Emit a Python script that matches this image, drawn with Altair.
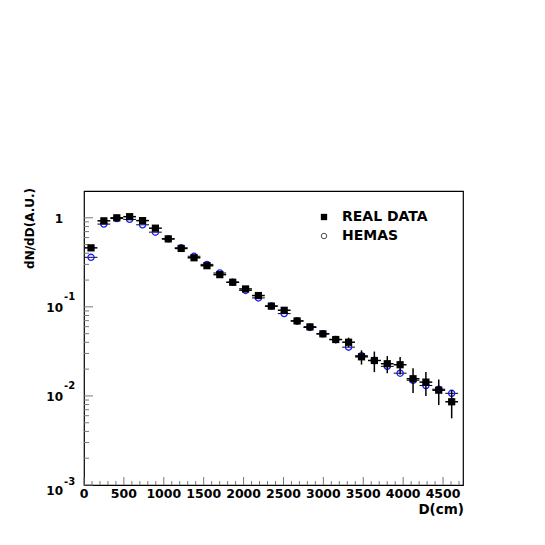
import altair as alt
import pandas as pd

# ---------------- data ----------------
bin_centers = [88, 249, 411, 572, 734, 895, 1056, 1218, 1379, 1541, 1702, 1864, 2025, 2186,
               2348, 2509, 2671, 2832, 2994, 3155, 3316, 3478, 3639, 3801, 3962, 4124, 4285,
               4446, 4608]
bin_half_width = 80

real_data = [0.46, 0.925, 1.0, 1.03, 0.93, 0.765, 0.58, 0.453, 0.356, 0.29, 0.23, 0.189,
             0.159, 0.134, 0.102, 0.0916, 0.0695, 0.0596, 0.0498, 0.043, 0.0401, 0.0275,
             0.025, 0.023, 0.0224, 0.0156, 0.0143, 0.0116, 0.0086]
real_err = [0.015, 0.03, 0.03, 0.03, 0.03, 0.025, 0.02, 0.017, 0.014, 0.012, 0.01, 0.009,
            0.008, 0.007, 0.006, 0.006, 0.006, 0.005, 0.004, 0.004, 0.005, 0.005, 0.0065,
            0.005, 0.005, 0.0048, 0.0043, 0.0037, 0.003]
hemas = [0.36, 0.85, 0.98, 0.96, 0.835, 0.69, 0.58, 0.46, 0.37, 0.30, 0.24, 0.189, 0.153,
         0.126, 0.102, 0.084, 0.0695, 0.0587, 0.0498, 0.043, 0.0353, 0.0283, 0.025, 0.0215,
         0.018, 0.015, 0.0131, 0.0119, 0.0107]

x_major_ticks = [0, 500, 1000, 1500, 2000, 2500, 3000, 3500, 4000, 4500]
x_minor_ticks = [v for v in range(100, 4750, 100) if v % 500 != 0]
y_major_ticks = [0.001, 0.01, 0.1, 1]
y_minor_ticks = [k * 10.0 ** e for e in (-3, -2, -1, 0) for k in range(2, 10) if k * 10.0 ** e < 2]
y_label_vals = [1, 0.1, 0.01]
y_label_base = ["1", "10", "10"]
y_label_exp = ["", "-1", "-2"]
legend_labels = ["REAL DATA", "HEMAS"]
x_title = "D(cm)"
y_title = "dN/dD(A.U.)"

W, H = 379, 294
FONT = "DejaVu Sans"

df = pd.DataFrame({
    "x": bin_centers,
    "xlo": [c - bin_half_width for c in bin_centers],
    "xhi": [c + bin_half_width for c in bin_centers],
    "real": real_data,
    "lo": [max(v - e, 1e-4) for v, e in zip(real_data, real_err)],
    "hi": [v + e for v, e in zip(real_data, real_err)],
    "hemas": hemas,
})

xs = alt.Scale(domain=[0, 4750], nice=False, zero=False)
ys = alt.Scale(type="log", domain=[0.001, 2], nice=False)

base = alt.Chart(df)

# ticks (inward, ROOT style)
xmin_df = pd.DataFrame({"t": x_minor_ticks})
xmaj_df = pd.DataFrame({"t": x_major_ticks})
ymin_df = pd.DataFrame({"t": y_minor_ticks})
ymaj_df = pd.DataFrame({"t": y_major_ticks})

tick_col = "#777777"
xminor = alt.Chart(xmin_df).mark_rule(color=tick_col, strokeWidth=1).encode(
    x=alt.X("t:Q", scale=xs, axis=None), y=alt.value(H), y2=alt.value(H - 4))
xmajor = alt.Chart(xmaj_df).mark_rule(color=tick_col, strokeWidth=1).encode(
    x=alt.X("t:Q", scale=xs, axis=None), y=alt.value(H), y2=alt.value(H - 8))
yminor = alt.Chart(ymin_df).mark_rule(color=tick_col, strokeWidth=1).encode(
    y=alt.Y("t:Q", scale=ys, axis=None), x=alt.value(0), x2=alt.value(5))
ymajor = alt.Chart(ymaj_df).mark_rule(color=tick_col, strokeWidth=1).encode(
    y=alt.Y("t:Q", scale=ys, axis=None), x=alt.value(0), x2=alt.value(9))

# HEMAS
h_hbar = base.mark_rule(color="black", strokeWidth=1).encode(
    x=alt.X("xlo:Q", scale=xs, axis=None), x2="xhi:Q",
    y=alt.Y("hemas:Q", scale=ys, axis=None))
h_pts = base.mark_point(shape="circle", filled=False, color="#1a1aff", size=38,
                        strokeWidth=1.3, opacity=1).encode(
    x=alt.X("x:Q", scale=xs, axis=None), y=alt.Y("hemas:Q", scale=ys, axis=None))

# REAL DATA
r_vbar = base.mark_rule(color="black", strokeWidth=1.5).encode(
    x=alt.X("x:Q", scale=xs, axis=None),
    y=alt.Y("lo:Q", scale=ys, axis=None), y2="hi:Q")
r_hbar = base.mark_rule(color="black", strokeWidth=1.5).encode(
    x=alt.X("xlo:Q", scale=xs, axis=None), x2="xhi:Q",
    y=alt.Y("real:Q", scale=ys, axis=None))
r_pts = base.mark_point(shape="square", filled=True, color="black", size=52, opacity=1).encode(
    x=alt.X("x:Q", scale=xs, axis=None), y=alt.Y("real:Q", scale=ys, axis=None))

# legend
leg1 = pd.DataFrame({"label": [legend_labels[0]]})
leg2 = pd.DataFrame({"label": [legend_labels[1]]})
lg_sq = alt.Chart(leg1).mark_point(shape="square", filled=True, color="black", size=40,
                                   opacity=1).encode(x=alt.value(240), y=alt.value(26))
lg_ci = alt.Chart(leg2).mark_point(shape="circle", filled=False, color="black", size=30,
                                   strokeWidth=1).encode(x=alt.value(240), y=alt.value(45))
lg_t1 = alt.Chart(leg1).mark_text(align="left", baseline="middle", font=FONT,
                                  fontWeight="bold", fontSize=14, color="black").encode(
    text="label:N", x=alt.value(258), y=alt.value(26))
lg_t2 = alt.Chart(leg2).mark_text(align="left", baseline="middle", font=FONT,
                                  fontWeight="bold", fontSize=14, color="black").encode(
    text="label:N", x=alt.value(258), y=alt.value(45))

# x tick labels
xl = alt.Chart(xmaj_df).mark_text(align="center", baseline="middle", font=FONT,
                                  fontWeight="bold", fontSize=12.5, color="black").encode(
    x=alt.X("t:Q", scale=xs, axis=None), y=alt.value(H + 9), text=alt.Text("t:Q", format="d"))

# y tick labels
ylab_df = pd.DataFrame({"v": y_label_vals, "base": y_label_base, "exp": y_label_exp})
yl_base = alt.Chart(ylab_df).mark_text(align="right", baseline="middle", font=FONT,
                                       fontWeight="bold", fontSize=12, dy=1,
                                       color="black").encode(
    y=alt.Y("v:Q", scale=ys, axis=None), x=alt.value(-21), text="base:N")
yl_exp = alt.Chart(ylab_df).mark_text(align="left", baseline="middle", font=FONT,
                                      fontWeight="bold", fontSize=10, dy=-10,
                                      color="black").encode(
    y=alt.Y("v:Q", scale=ys, axis=None), x=alt.value(-20), text="exp:N")
ybot_df = pd.DataFrame({"v": [0.001], "base": ["10"], "exp": ["-3"]})
yb_base = alt.Chart(ybot_df).mark_text(align="right", baseline="middle", font=FONT,
                                       fontWeight="bold", fontSize=12, dy=6,
                                       color="black").encode(
    y=alt.Y("v:Q", scale=ys, axis=None), x=alt.value(-21), text="base:N")
yb_exp = alt.Chart(ybot_df).mark_text(align="left", baseline="middle", font=FONT,
                                      fontWeight="bold", fontSize=10, dy=-3,
                                      color="black").encode(
    y=alt.Y("v:Q", scale=ys, axis=None), x=alt.value(-20), text="exp:N")

# axis titles
xt = alt.Chart(pd.DataFrame({"s": [x_title]})).mark_text(
    align="right", baseline="middle", font=FONT, fontWeight="bold", fontSize=13.5,
    color="black").encode(text="s:N", x=alt.value(W + 1), y=alt.value(H + 25))
yt = alt.Chart(pd.DataFrame({"s": [y_title]})).mark_text(
    align="right", baseline="middle", font=FONT, fontWeight="bold", fontSize=12,
    angle=270, color="black").encode(text="s:N", x=alt.value(-54), y=alt.value(-3))

chart = alt.layer(
    xminor, xmajor, yminor, ymajor,
    h_hbar, h_pts, r_vbar, r_hbar, r_pts,
    lg_sq, lg_ci, lg_t1, lg_t2,
    xl, yl_base, yl_exp, yb_base, yb_exp, xt, yt,
).properties(
    width=W, height=H,
    autosize=alt.AutoSizeParams(type="none"),
    padding={"left": 76, "top": 183, "right": 70, "bottom": 52},
    background="white",
).configure_view(stroke="black", strokeWidth=1.2)

chart.save("out.html", embed_options={"renderer": "svg", "actions": False})
